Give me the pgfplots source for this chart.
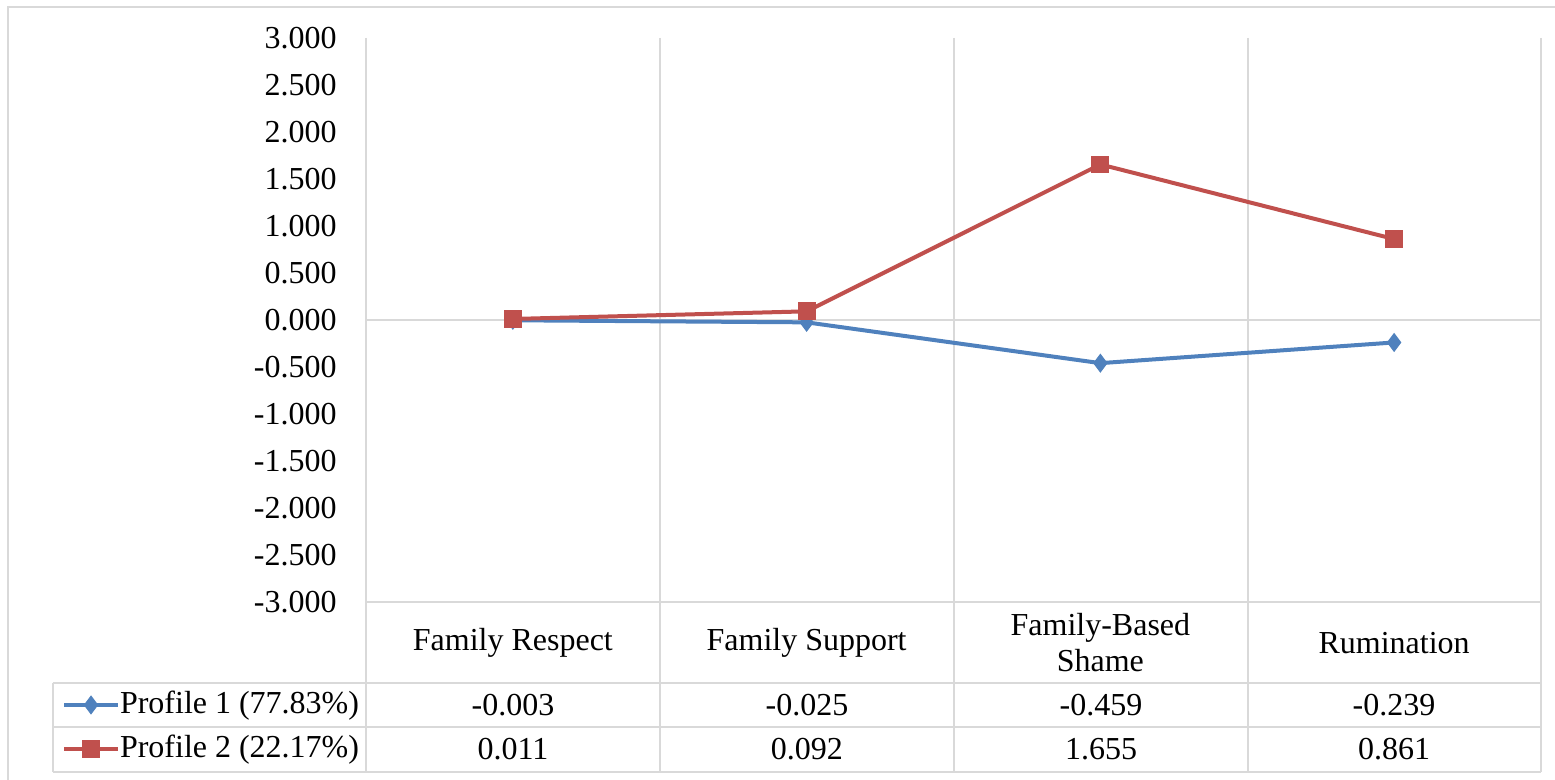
\documentclass[border=0pt]{standalone}
\usepackage{fontspec}
\setmainfont{Liberation Serif}
\usepackage{pgfplots}
\pgfplotsset{compat=1.18}
\definecolor{pblue}{HTML}{4F81BD}
\definecolor{pred}{HTML}{C0504D}
\definecolor{gridc}{HTML}{D9D9D9}
\begin{document}
\fontsize{16}{18}\selectfont
\begin{tikzpicture}
\begin{scope}[shift={(-183pt,301pt)}, x=0.5pt, y=-0.5pt]
\useasboundingbox (0,0) rectangle (1555,780);
\draw[gridc, line width=1pt] (8,780) -- (8,7) -- (1555,7);
\foreach \x in {366,660,954,1248,1541} \draw[gridc, line width=1.2pt] (\x,38) -- (\x,772);
\draw[gridc,line width=1.2pt] (366,320) -- (1541,320);
\draw[gridc,line width=1.2pt] (366,602) -- (1541,602);
\foreach \y in {683,727,772} \draw[gridc,line width=1.2pt] (53,\y) -- (1541,\y);
\draw[gridc,line width=1.2pt] (53,683) -- (53,772);
\foreach \x/\a/\b in {513/-0.003/0.011, 807/-0.025/0.092, 1101/-0.459/1.655, 1394/-0.239/0.861} {
  \node at (\x,705) {\a};
  \node at (\x,749.5) {\b};
}
\end{scope}
\begin{axis}[
  at={(0,0)}, anchor=south west,
  scale only axis, width=587.5pt, height=282pt,
  xmin=0.5, xmax=4.5, ymin=-3, ymax=3,
  axis line style={draw=none}, major tick length=0pt,
  xtick={1,2,3,4},
  xticklabels={Family Respect, Family Support, {Family-Based\\Shame}, Rumination},
  xticklabel style={align=center, anchor=center, yshift=-20.5pt},
  ytick={-3,-2.5,-2,-1.5,-1,-0.5,0,0.5,1,1.5,2,2.5,3},
  yticklabel style={/pgf/number format/.cd, fixed, fixed zerofill, precision=3, assume math mode=true, /tikz/.cd, anchor=east, inner sep=0pt, xshift=-14.5pt},
  legend style={at={(-0.2587,-0.1436)}, anchor=north west, draw=none, fill=none, inner sep=0pt, outer sep=0pt, row sep=0pt, nodes={inner sep=0pt, minimum height=22pt}},
  legend cell align=left,
  legend image code/.code={\draw[mark repeat=2,mark phase=2] plot coordinates {(0pt,0pt) (13.5pt,0pt) (27pt,0pt)};},
  clip=false,
]
\addplot[pblue, line width=2pt, mark=diamond*, mark size=4.4pt, mark options={solid, line width=0.5pt}] coordinates {(1,-0.003) (2,-0.025) (3,-0.459) (4,-0.239)};
\addlegendentry{Profile 1 (77.83\%)}
\addplot[pred, line width=2pt, mark=square*, mark size=4.2pt, mark options={solid, line width=0.5pt}] coordinates {(1,0.011) (2,0.092) (3,1.655) (4,0.861)};
\addlegendentry{Profile 2 (22.17\%)}
\end{axis}
\end{tikzpicture}
\end{document}
